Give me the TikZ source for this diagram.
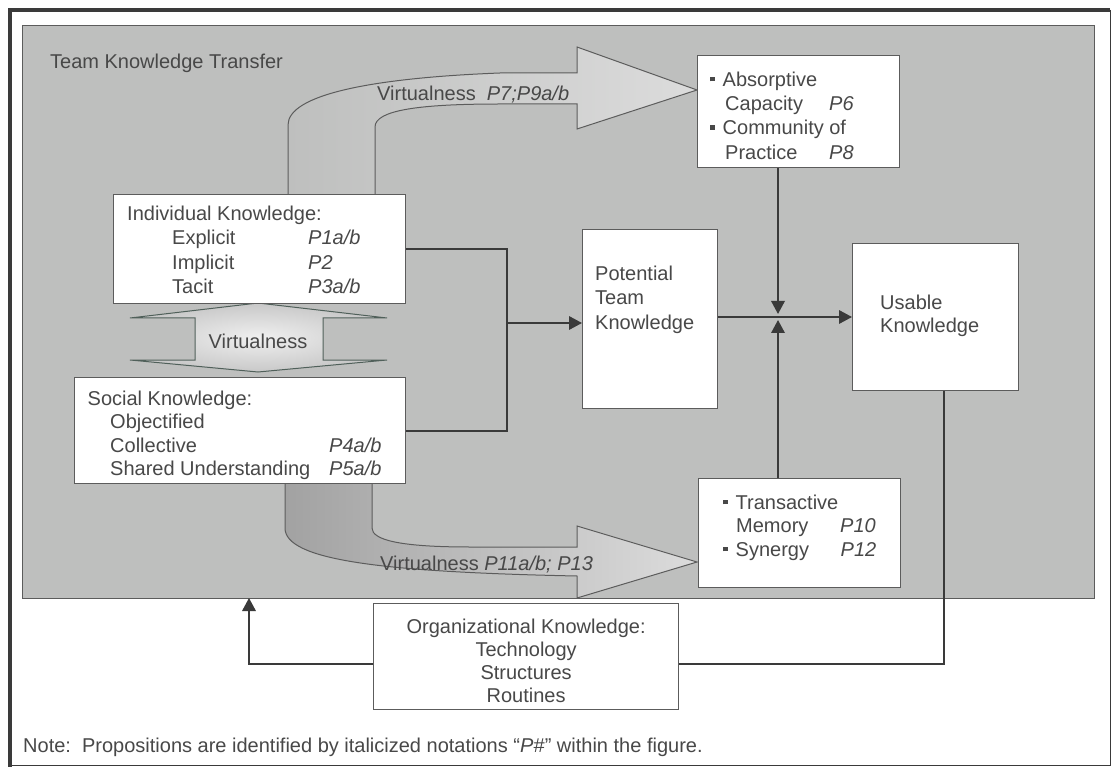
\documentclass[tikz,border=0pt]{standalone}
\usepackage{fontspec}
\setmainfont{Liberation Sans}
\usetikzlibrary{arrows.meta,shapes}

\definecolor{panelgray}{RGB}{190,191,190}
\definecolor{linegray}{RGB}{58,58,58}
\definecolor{textgray}{RGB}{72,72,72}
\definecolor{boxline}{RGB}{92,92,92}
\definecolor{bandlight}{RGB}{220,220,220}
\definecolor{bandmid}{RGB}{200,200,200}
\definecolor{banddark}{RGB}{162,162,162}

\newcommand{\sqbullet}{\makebox[12.5pt][l]{\raisebox{5pt}{\rule{4.5pt}{4.5pt}}}}

\begin{document}
\begin{tikzpicture} [x=1pt,y=-1pt,>={Triangle[length=13pt,width=13.5pt]},
    every node/.style={font=\fontsize{20}{24.5}\selectfont,text=textgray},
    kbox/.style={draw=boxline,fill=white,line width=1.2pt,rectangle,anchor=north west,inner sep=0pt},
    words/.style={anchor=north west,inner sep=0pt,align=left},
    wire/.style={draw=linegray,line width=1.8pt},
    band/.style={draw=boxline,line width=1pt}]
    \useasboundingbox (0,0) rectangle (1114,767);
    \fill[white] (0,0) rectangle (1114,767);

    % frame and grey panel
    \draw[linegray,line width=4.5pt] (10,767) -- (10,10) -- (1110,10);
    \draw[linegray,line width=1pt] (1110,10) -- (1110,765) -- (10,765);
    \node[fill=panelgray,draw=boxline,line width=1pt,rectangle,anchor=north west,inner sep=0pt,
          minimum width=1072,minimum height=573] (panel) at (22,25) {};
    \node[words] (title) at (50,54.3) {Team Knowledge Transfer};

    % wide arrows
    \shade[band,left color=panelgray,right color=bandlight]
        (288,194) -- (288,125) .. controls (288,95) and (370,78) .. (500,73) -- (577,73)
        -- (577,47) -- (697,90) -- (577,129) -- (577,104) -- (500,104)
        .. controls (420,104) and (375,110) .. (375,127) -- (375,194);
    \shade[band,left color=banddark,right color=bandlight]
        (285,483) -- (285,528) .. controls (285,560) and (380,572) .. (577,576)
        -- (577,598) -- (697,562) -- (577,526) -- (577,547) -- (470,547)
        .. controls (400,547) and (372,540) .. (372,528) -- (372,483);
    \shade[draw={rgb,255:red,80;green,96;blue,90},line width=1pt,inner color=white!88!gray,outer color=bandmid]
        (258,303) -- (387,318) -- (323,318) -- (323,360) -- (387,360) -- (258,372)
        -- (130,360) -- (195,360) -- (195,318) -- (130,318) -- cycle;
    \node (vlabel) at (258,341) {Virtualness};
    \node[words] (toplabel) at (377,85.6) {Virtualness\ \ \textit{P7;P9a/b}};
    \node[words] (botlabel) at (380,555.6) {Virtualness \textit{P11a/b; P13}};

    % boxes
    \node[kbox,minimum width=292,minimum height=109] (indiv) at (113,194) {};
    \node[kbox,minimum width=331,minimum height=106] (social) at (74,377) {};
    \node[kbox,minimum width=135,minimum height=179] (pot) at (582,229) {};
    \node[kbox,minimum width=166,minimum height=147] (use) at (852,243) {};
    \node[kbox,minimum width=202,minimum height=112] (absorb) at (697,55) {};
    \node[kbox,minimum width=202,minimum height=109] (trans) at (698,478) {};
    \node[kbox,minimum width=305,minimum height=106] (org) at (373,603) {};

    \node[words] (indivtext) at ([shift={(14,11.6)}]indiv.north west)
        {Individual Knowledge:\\
         \hspace*{45pt}\makebox[136pt][l]{Explicit}\textit{P1a/b}\\
         \hspace*{45pt}\makebox[136pt][l]{Implicit}\textit{P2}\\
         \hspace*{45pt}\makebox[136pt][l]{Tacit}\textit{P3a/b}};
    \node[words,font=\fontsize{20}{23.4}\selectfont] (socialtext) at ([shift={(13.5,13.6)}]social.north west)
        {Social Knowledge:\\
         \hspace*{22.5pt}Objectified\\
         \hspace*{22.5pt}\makebox[219pt][l]{Collective}\textit{P4a/b}\\
         \hspace*{22.5pt}\makebox[219pt][l]{Shared Understanding}\textit{P5a/b}};
    \node[words] (pottext) at ([shift={(13,36.6)}]pot.north west) {Potential\\Team\\Knowledge};
    \node[words,font=\fontsize{20}{23}\selectfont] (usetext) at ([shift={(28,51.6)}]use.north west) {Usable\\Knowledge};
    \node[words,font=\fontsize{20}{24.3}\selectfont] (absorbtext) at ([shift={(13,16.6)}]absorb.north west)
        {\sqbullet Absorptive\\
         \hspace*{15pt}\makebox[104pt][l]{Capacity}\textit{P6}\\
         \sqbullet Community of\\
         \hspace*{15pt}\makebox[104pt][l]{Practice}\textit{P8}};
    \node[words,font=\fontsize{20}{23.5}\selectfont] (transtext) at ([shift={(25,16.6)}]trans.north west)
        {\sqbullet Transactive\\
         \hspace*{13pt}\makebox[104pt][l]{Memory}\textit{P10}\\
         \sqbullet\makebox[105pt][l]{Synergy}\textit{P12}};
    \node[anchor=north,inner sep=0pt,align=center,font=\fontsize{20}{23}\selectfont] (orgtext)
        at ([shift={(0,15.6)}]org.north) {Organizational Knowledge:\\Technology\\Structures\\Routines};

    % connectors
    \coordinate (join) at (507,323);
    \coordinate (meet) at (778,317);
    \coordinate (backin) at (249,598);
    \draw[wire] (indiv.east) -| (join) |- (social.east);
    \path (join) edge [wire,->] (join -| pot.west);
    \path (pot.east |- meet) edge [wire,->] (meet -| use.west);
    \path (absorb.south -| meet) edge [wire,->] ([yshift=3pt]meet);
    \path (trans.north -| meet) edge [wire,->] ([yshift=-3pt]meet);
    \draw[wire] ([xshift=8pt]use.south) |- ([yshift=-7pt]org.east);
    \draw[wire,->] ([yshift=-7pt]org.west) -| (backin);

    \node[words] (note) at (23,737.6)
        {Note:\ \ Propositions are identified by italicized notations “\textit{P\#}” within the figure.};
\end{tikzpicture}
\end{document}
